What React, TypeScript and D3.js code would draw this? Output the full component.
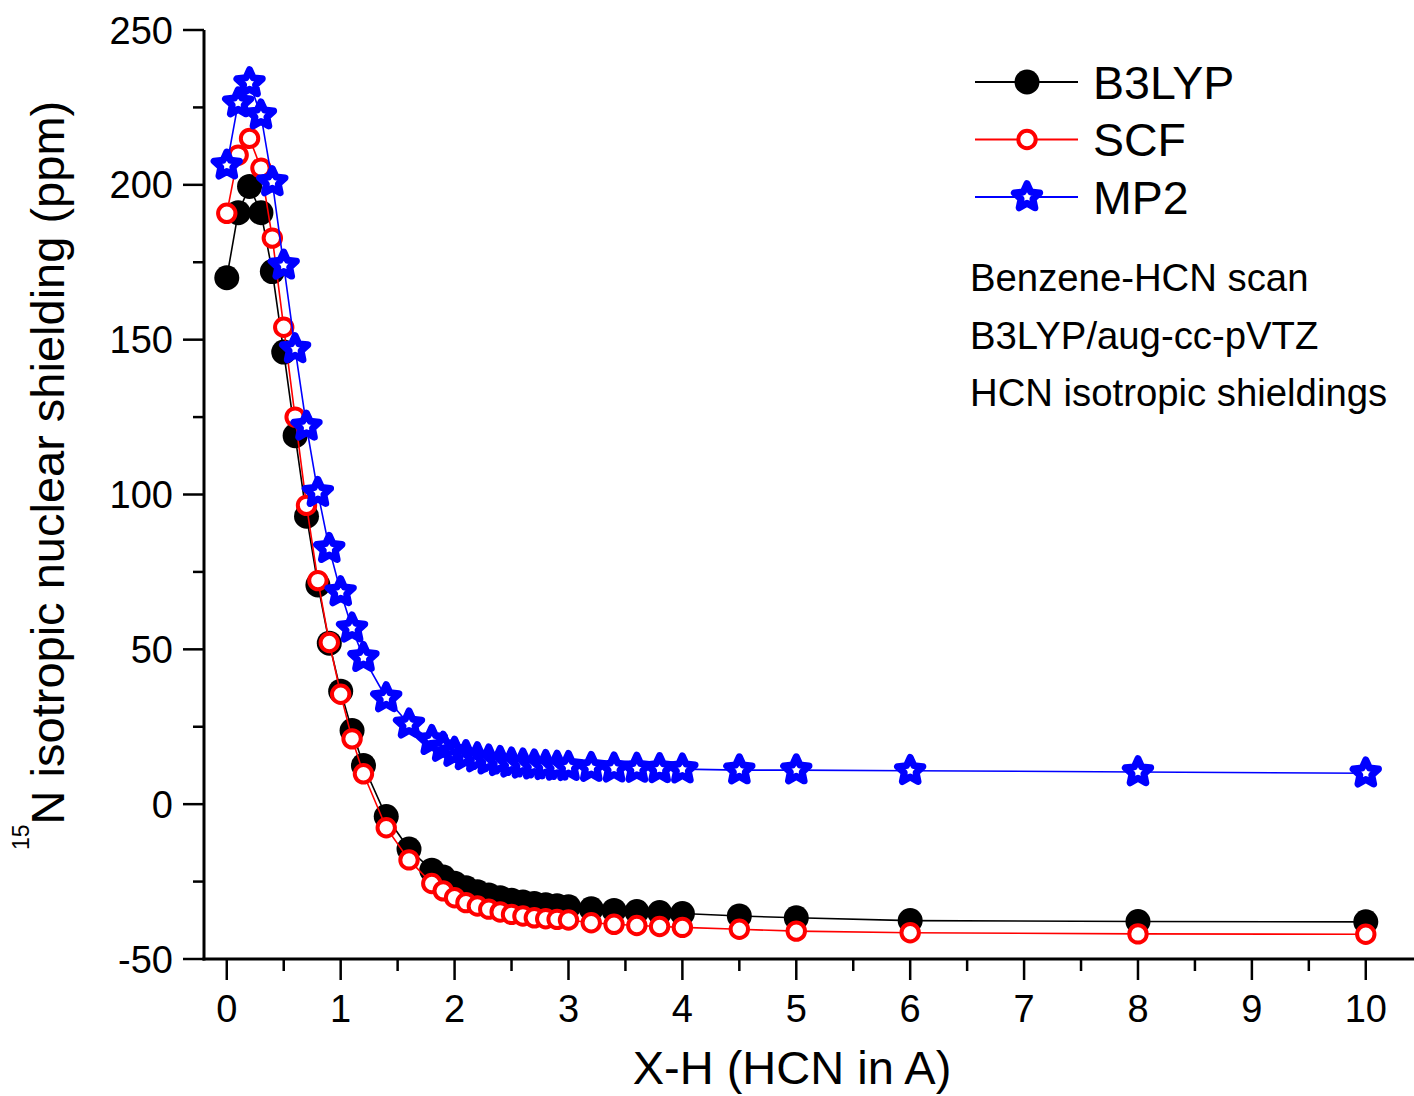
import React from "react";
import * as d3 from "d3";

const xValues = [0, 0.1, 0.2, 0.3, 0.4, 0.5, 0.6, 0.7, 0.8, 0.9, 1.0, 1.1, 1.2, 1.4, 1.6, 1.8, 1.9, 2.0, 2.1, 2.2, 2.3, 2.4, 2.5, 2.6, 2.7, 2.8, 2.9, 3.0, 3.2, 3.4, 3.6, 3.8, 4.0, 4.5, 5, 6, 8, 10];

const b3lyp = [170, 191, 199.5, 191, 172, 146, 119, 93, 70.8, 52, 36.5, 23.8, 12.5, -4, -14.5, -21.3, -23.5, -25.5, -27, -28.3, -29.3, -30.2, -31, -31.6, -32.1, -32.5, -32.8, -33.1, -33.8, -34.3, -34.7, -35, -35.3, -36.1, -36.7, -37.6, -37.9, -38];

const scf = [190.8, 209.6, 215, 205.4, 182.8, 154, 125, 96.5, 72.2, 52.2, 35.5, 21.1, 9.8, -7.6, -18, -25.6, -28, -30.2, -31.8, -32.9, -33.9, -34.8, -35.6, -36.1, -36.7, -37, -37.2, -37.4, -38.3, -38.8, -39.2, -39.5, -39.8, -40.4, -41, -41.5, -41.9, -42];

const mp2 = [206.3, 226.4, 232.9, 222.5, 200.9, 174, 147, 122, 100.6, 82.5, 68.5, 56.8, 47.3, 34.3, 25.8, 20.5, 18.3, 16.7, 15.6, 14.9, 14.2, 13.7, 13.2, 12.9, 12.6, 12.4, 12.2, 12.1, 11.8, 11.6, 11.5, 11.4, 11.3, 11, 11, 10.8, 10.4, 10];

const xMajorTicks = [0, 1, 2, 3, 4, 5, 6, 7, 8, 9, 10];
const xMinorTicks = [0.5, 1.5, 2.5, 3.5, 4.5, 5.5, 6.5, 7.5, 8.5, 9.5];
const yMajorTicks = [-50, 0, 50, 100, 150, 200, 250];
const yMinorTicks = [-25, 25, 75, 125, 175, 225];

const seriesNames = ["B3LYP", "SCF", "MP2"];
const annotationLines = ["Benzene-HCN scan", "B3LYP/aug-cc-pVTZ", "HCN isotropic shieldings"];
const xTitle = "X-H (HCN in A)";
const yTitleSup = "15";
const yTitleMain = "N isotropic nuclear shielding (ppm)";

const W = 1414;
const H = 1096;
const FONT = "'Liberation Sans', Arial, Helvetica, sans-serif";

const axisLeft = 204;
const axisBottom = 959;
const x = d3.scaleLinear().domain([-0.2, 10.5]).range([axisLeft, axisLeft + 113.9 * 10.7]);
const y = d3.scaleLinear().domain([-50, 250]).range([axisBottom, 30]);

function starPath(R: number, r: number): string {
  const pts: [number, number][] = [];
  for (let i = 0; i < 10; i++) {
    const rad = i % 2 === 0 ? R : r;
    const a = -Math.PI / 2 + (i * Math.PI) / 5;
    pts.push([rad * Math.cos(a), rad * Math.sin(a)]);
  }
  return "M" + pts.map((p) => p[0].toFixed(2) + "," + p[1].toFixed(2)).join("L") + "Z";
}
const STAR = starPath(13.3, 6.3);

function Marker({ kind, cx, cy }: { kind: number; cx: number; cy: number }) {
  if (kind === 0) return <circle cx={cx} cy={cy} r={12.5} fill="#000" />;
  if (kind === 1)
    return <circle cx={cx} cy={cy} r={8.7} fill="#fff" stroke="#ff0000" strokeWidth={4} />;
  return (
    <path
      d={STAR}
      transform={`translate(${cx},${cy})`}
      fill="#fff"
      stroke="#0000ff"
      strokeWidth={7}
      strokeLinejoin="round"
    />
  );
}

export default function App() {
  const series = [b3lyp, scf, mp2];
  const colors = ["#000000", "#ff0000", "#0000ff"];
  const line = d3
    .line<number>()
    .x((_, i) => x(xValues[i]))
    .y((d) => y(d));

  return (
    <svg
      width={W}
      height={H}
      viewBox={`0 0 ${W} ${H}`}
      style={{ position: "absolute", left: 0, top: 0, background: "#fff" }}
      fontFamily={FONT}
    >
      <rect x={0} y={0} width={W} height={H} fill="#fff" />

      {series.map((s, k) => (
        <g key={k}>
          <path d={line(s) || ""} fill="none" stroke={colors[k]} strokeWidth={1.6} />
          {s.map((v, i) => (
            <Marker key={i} kind={k} cx={x(xValues[i])} cy={y(v)} />
          ))}
        </g>
      ))}

      <line x1={axisLeft} x2={axisLeft} y1={y(250)} y2={axisBottom + 1.5} stroke="#000" strokeWidth={3} />
      <line x1={axisLeft - 1.5} x2={W} y1={axisBottom} y2={axisBottom} stroke="#000" strokeWidth={3} />

      {xMajorTicks.map((t) => (
        <g key={"xm" + t}>
          <line x1={x(t)} x2={x(t)} y1={axisBottom} y2={axisBottom + 21} stroke="#000" strokeWidth={2.5} />
          <text x={x(t)} y={1022} textAnchor="middle" fontSize={38} fill="#000">
            {t}
          </text>
        </g>
      ))}
      {xMinorTicks.map((t) => (
        <line key={"xn" + t} x1={x(t)} x2={x(t)} y1={axisBottom} y2={axisBottom + 12} stroke="#000" strokeWidth={2.5} />
      ))}
      {yMajorTicks.map((t) => (
        <g key={"ym" + t}>
          <line x1={axisLeft - 21} x2={axisLeft} y1={y(t)} y2={y(t)} stroke="#000" strokeWidth={2.5} />
          <text x={173} y={y(t) + 13.5} textAnchor="end" fontSize={38} fill="#000">
            {t}
          </text>
        </g>
      ))}
      {yMinorTicks.map((t) => (
        <line key={"yn" + t} x1={axisLeft - 11} x2={axisLeft} y1={y(t)} y2={y(t)} stroke="#000" strokeWidth={2.5} />
      ))}

      <text x={792} y={1084} textAnchor="middle" fontSize={47} fill="#000">
        {xTitle}
      </text>
      <text transform="translate(64,850) rotate(-90)" fontSize={47} fill="#000">
        <tspan fontSize={23} dy={-35}>
          {yTitleSup}
        </tspan>
        <tspan dy={35}>{yTitleMain}</tspan>
      </text>

      {seriesNames.map((name, k) => {
        const ly = 82 + k * 57.5;
        return (
          <g key={name}>
            <line x1={975} x2={1078} y1={ly} y2={ly} stroke={colors[k]} strokeWidth={2} />
            <Marker kind={k} cx={1027} cy={ly} />
            <text x={1093} y={ly + 16.5} fontSize={46.5} fill="#000">
              {name}
            </text>
          </g>
        );
      })}

      {annotationLines.map((t, i) => (
        <text key={t} x={970} y={291 + i * 57.5} fontSize={38.3} fill="#000">
          {t}
        </text>
      ))}
    </svg>
  );
}
